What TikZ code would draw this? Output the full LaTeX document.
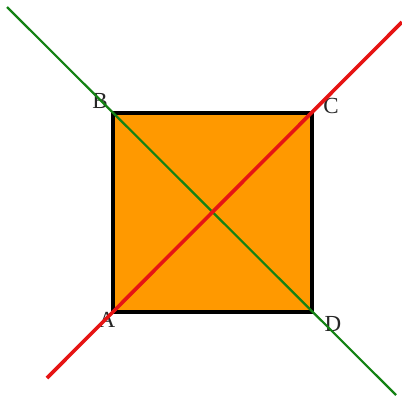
\documentclass[tikz,border=0pt]{standalone}
\usepackage{fontspec}
\setmainfont{Liberation Serif}
\definecolor{sqfill}{RGB}{255,153,0}
\definecolor{lgreen}{RGB}{20,130,20}
\definecolor{lred}{RGB}{230,20,20}
\begin{document}
\begin{tikzpicture}[x=1pt,y=-1pt,
  lbl/.style={font=\fontsize{23}{23}\selectfont, text=black!85, inner sep=0pt}]
\useasboundingbox (0,0) rectangle (402,397);
\coordinate (A) at (113,312);
\coordinate (B) at (113,113);
\coordinate (C) at (312,113);
\coordinate (D) at (312,312);
\coordinate (g1) at (7,7);
\coordinate (g2) at (396,395);
\coordinate (r1) at (47,378);
\coordinate (r2) at (402,22);
\filldraw[fill=sqfill, draw=black, line width=3.2pt] (A) -- (B) -- (C) -- (D) -- cycle;
\node[lbl] (lA) at (107,320) {A};
\node[lbl] (lB) at (100,101) {B};
\node[lbl] (lC) at (331,106) {C};
\node[lbl] (lD) at (333,324) {D};
\draw[lgreen, line width=2.2pt] (g1) -- (g2);
\draw[lred, line width=3.6pt] (r1) -- (r2);
\end{tikzpicture}
\end{document}
